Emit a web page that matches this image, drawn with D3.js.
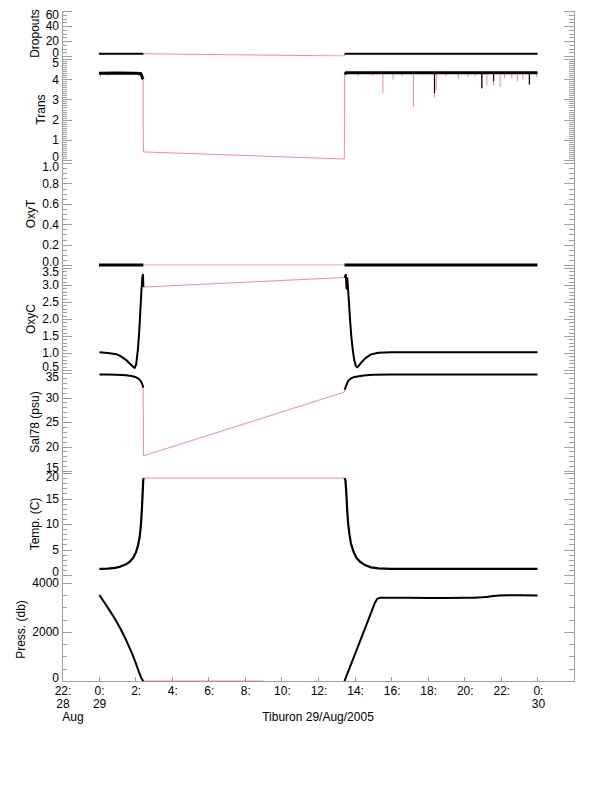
<!DOCTYPE html>
<html><head><meta charset="utf-8">
<script src="https://cdn.jsdelivr.net/npm/d3@7"></script>
<style>
body{margin:0;background:#fff}
svg{display:block}
text{font-family:"Liberation Sans",Arial,Helvetica,sans-serif;font-size:12px;fill:#000}
</style>
</head><body><svg id="c" width="612" height="785"></svg>
<script>
// ---------- DATA (time in hours from 29 Aug 2005 00:00) ----------
const timeDomain = [-2, 26];
const timeTicks = [-2, 0, 2, 4, 6, 8, 10, 12, 14, 16, 18, 20, 22, 24];
const dayLabels = {"-2": "28", "0": "29", "24": "30"};
const monthLabel = "Aug";
const xTitle = "Tiburon 29/Aug/2005";

const panelTitles = ["Dropouts", "Trans", "OxyT", "OxyC", "Sal78 (psu)", "Temp. (C)", "Press. (db)"];
const panelDomains = [[0, 60], [0, 5], [0, 1], [0.5, 3.5], [15, 35], [0, 20], [0, 4200]];
const panelMajor = [20, 1, 0.2, 0.5, 5, 5, 2000];
const panelMinor = [5, 0.1, 0.05, 0.1, 1, 1, 500];
const panelDecimals = [0, 0, 1, 1, 0, 0, 0];

// Dropouts
const dropA = [[0.02, 3], [1.2, 3], [2.45, 3]];
const dropGap = [[13.44, 0]];
const dropB = [[13.46, 3], [18, 3], [24, 3]];
// Transmissometer
const transA = [[0.02, 4.3], [1.0, 4.31], [2.0, 4.3], [2.3, 4.28], [2.36, 4.18], [2.4, 4.06], [2.44, 4.0]];
const transGap = [[2.45, 0.4], [13.44, 0.05]];
const transB = [[13.46, 4.25], [13.55, 4.32], [18, 4.32], [24, 4.32]];
const transSpikes = [[0.1, 4.12], [0.5, 4.15], [2.2, 4.15], [14.2, 4.15], [15.0, 4.18], [15.55, 3.33],
  [16.1, 4.0], [16.6, 4.15], [17.22, 2.64], [17.8, 4.2], [18.37, 3.1], [18.46, 3.47], [19.0, 4.15],
  [19.67, 4.0], [20.2, 4.1], [20.6, 4.15], [20.96, 3.55], [21.23, 3.7], [21.6, 3.7], [21.96, 3.63],
  [22.2, 4.05], [22.6, 4.05], [22.9, 3.9], [23.2, 4.0], [23.56, 3.7], [23.97, 4.1]];
const transDarkSpikes = [[18.37, 3.3], [20.96, 3.55], [23.56, 3.75], [21.6, 3.9]];
// Oxygen temperature
const oxyTA = [[0.02, 0], [2.45, 0]];
const oxyTGap = [];
const oxyTB = [[13.45, 0], [24, 0]];
// Oxygen concentration
const oxyCA = [[0.05, 1.02], [0.5, 1.0], [1.0, 0.96], [1.2, 0.91], [1.5, 0.8], [1.7, 0.69], [1.9, 0.59],
  [1.98, 0.56], [2.06, 0.68], [2.15, 1.1], [2.22, 1.6], [2.28, 2.2], [2.34, 2.8], [2.4, 3.25], [2.43, 3.3], [2.45, 2.94]];
const oxyCGap = [];
const oxyCB = [[13.45, 3.22], [13.52, 3.3], [13.56, 2.9], [13.6, 3.2], [13.68, 2.6], [13.75, 2.0], [13.82, 1.5],
  [13.9, 1.1], [13.98, 0.8], [14.06, 0.63], [14.14, 0.58], [14.22, 0.62], [14.4, 0.74], [14.6, 0.85],
  [14.9, 0.96], [15.3, 1.01], [16, 1.02], [24, 1.02]];
// Salinity
const salA = [[0.05, 34.7], [0.5, 34.7], [1.0, 34.65], [1.5, 34.55], [1.8, 34.4], [2.0, 34.2], [2.2, 33.8],
  [2.3, 33.4], [2.38, 32.8], [2.42, 32.4], [2.44, 32.0]];
const salGap = [[2.46, 18.1], [13.44, 31.1]];
const salB = [[13.46, 31.6], [13.55, 32.5], [13.65, 33.4], [13.8, 33.9], [14.0, 34.2], [14.5, 34.5],
  [15, 34.65], [16, 34.7], [24, 34.7]];
// Temperature
const tempA = [[0.05, 1.2], [0.5, 1.25], [0.9, 1.4], [1.2, 1.65], [1.5, 2.1], [1.7, 2.6], [1.9, 3.4], [2.05, 4.5],
  [2.15, 5.7], [2.25, 7.5], [2.32, 10], [2.37, 13], [2.41, 16], [2.44, 18.5], [2.46, 19.0]];
const tempGap = [];
const tempB = [[13.45, 19.0], [13.5, 18.6], [13.55, 16], [13.6, 12.5], [13.65, 10], [13.72, 8], [13.8, 6.2],
  [13.95, 4.5], [14.1, 3.4], [14.3, 2.6], [14.6, 1.9], [14.9, 1.5], [15.3, 1.3], [16, 1.2], [24, 1.2]];
// Pressure
const pressA = [[0.05, 3500], [0.3, 3220], [0.6, 2880], [0.9, 2530], [1.2, 2130], [1.5, 1680], [1.8, 1180],
  [2.0, 800], [2.2, 380], [2.35, 100], [2.45, 0]];
const pressGap = [[9.0, 0], [9.05, -60], [13.4, -60]];
const pressB = [[13.45, 0], [13.7, 480], [14.0, 1050], [14.3, 1630], [14.6, 2200], [14.9, 2780], [15.1, 3170],
  [15.25, 3360], [15.4, 3395], [16, 3390], [17, 3390], [18, 3385], [19, 3385], [20, 3390], [20.5, 3395],
  [21, 3420], [21.3, 3440], [21.6, 3470], [21.9, 3490], [22.5, 3495], [23, 3495], [24, 3490]];

const seriesA = [dropA, transA, oxyTA, oxyCA, salA, tempA, pressA];
const seriesGap = [dropGap, transGap, oxyTGap, oxyCGap, salGap, tempGap, pressGap];
const seriesB = [dropB, transB, oxyTB, oxyCB, salB, tempB, pressB];

// ---------- LAYOUT ----------
const xL = 62, xR = 574;
const panelTops = [11, 59, 163, 268, 373, 473, 578];
const panelBottoms = [56, 160, 265, 370, 471, 575, 681];
const lineW = [1.8, 3, 3, 2, 2, 2.2, 2];
const axisColor = "#a0a0a0";
const redColor = "#ff3535";

const svg = d3.select("#c");
const x = d3.scaleLinear().domain(timeDomain).range([xL, xR]);
const defs = svg.append("defs");

// frame lines
const fr = svg.append("g").attr("stroke", axisColor).attr("stroke-width", 1).attr("shape-rendering", "crispEdges");
fr.append("line").attr("x1", xL + 0.5).attr("x2", xL + 0.5).attr("y1", panelTops[0]).attr("y2", 682);
fr.append("line").attr("x1", xR + 0.5).attr("x2", xR + 0.5).attr("y1", panelTops[0]).attr("y2", 682);
fr.append("line").attr("x1", xL).attr("x2", xR + 1).attr("y1", 681.5).attr("y2", 681.5);
timeTicks.forEach(t => {
  const xx = Math.round(x(t)) + 0.5;
  fr.append("line").attr("x1", xx).attr("x2", xx).attr("y1", 681).attr("y2", 677);
});

panelTitles.forEach((title, i) => {
  const top = panelTops[i], bottom = panelBottoms[i];
  const dom = panelDomains[i];
  const y = d3.scaleLinear().domain(dom).range([bottom, top]);
  const g = svg.append("g");
  const eps = 1e-9;
  const majors = d3.range(dom[0], dom[1] + eps, panelMajor[i]);
  const minors = d3.range(dom[0], dom[1] + eps, panelMinor[i]);

  // ticks
  const tk = g.append("g").attr("stroke", axisColor).attr("stroke-width", 1).attr("shape-rendering", "crispEdges");
  minors.forEach(v => {
    const yy = Math.round(y(v)) + 0.5;
    tk.append("line").attr("x1", xL).attr("x2", xL + 5).attr("y1", yy).attr("y2", yy);
    tk.append("line").attr("x1", xR).attr("x2", xR - 5).attr("y1", yy).attr("y2", yy);
  });
  majors.forEach(v => {
    const yy = Math.round(y(v)) + 0.5;
    tk.append("line").attr("x1", xL).attr("x2", xL + 10).attr("y1", yy).attr("y2", yy);
    tk.append("line").attr("x1", xR).attr("x2", xR - 10).attr("y1", yy).attr("y2", yy);
  });
  // tick labels
  let maxW = 0;
  majors.forEach(v => {
    let yy = y(v);
    yy = Math.max(yy, top + 4);
    yy = Math.min(yy, bottom - 3.5);
    const t = g.append("text").attr("x", xL - 3).attr("y", yy).attr("dy", "0.36em")
      .attr("text-anchor", "end").text(d3.format("." + panelDecimals[i] + "f")(v));
    maxW = Math.max(maxW, t.node().getComputedTextLength());
  });
  // title
  const tx = xL - 3 - maxW - 7;
  g.append("text").attr("transform", `translate(${tx},${(top + bottom) / 2}) rotate(-90)`)
    .attr("text-anchor", "middle").text(title);

  // clip for connecting line
  defs.append("clipPath").attr("id", "clip" + i).append("rect")
    .attr("x", xL).attr("y", top - 3).attr("width", xR - xL).attr("height", bottom - top + 3.5);

  const line = d3.line().x(d => x(d[0])).y(d => y(d[1]));
  const all = seriesA[i].concat(seriesGap[i], seriesB[i]);
  g.append("path").attr("d", line(all)).attr("fill", "none").attr("stroke", redColor)
    .attr("stroke-width", 0.9).attr("opacity", 0.65).attr("clip-path", `url(#clip${i})`);

  if (i === 1) {
    g.selectAll(".sp").data(transSpikes).join("line")
      .attr("x1", d => x(d[0])).attr("x2", d => x(d[0]))
      .attr("y1", y(4.3)).attr("y2", d => y(d[1]))
      .attr("stroke", redColor).attr("stroke-width", 1).attr("opacity", 0.6);
  }
  [seriesA[i], seriesB[i]].forEach(seg => {
    g.append("path").attr("d", line(seg)).attr("fill", "none").attr("stroke", "#000")
      .attr("stroke-width", lineW[i]).attr("stroke-linejoin", "round");
  });
  if (i === 1) {
    g.selectAll(".dsp").data(transDarkSpikes).join("line")
      .attr("x1", d => x(d[0])).attr("x2", d => x(d[0]))
      .attr("y1", y(4.3)).attr("y2", d => y(d[1]))
      .attr("stroke", "#000").attr("stroke-width", 1.2);
  }
});

// x tick labels
const xl = svg.append("g");
timeTicks.forEach(t => {
  const h = ((t % 24) + 24) % 24;
  xl.append("text").attr("x", x(t) + 1).attr("y", 695).attr("text-anchor", "middle").text(h + ":");
  if (dayLabels[String(t)]) {
    xl.append("text").attr("x", x(t) + 1).attr("y", 708).attr("text-anchor", "middle").text(dayLabels[String(t)]);
  }
});
xl.append("text").attr("x", x(-2) + 11).attr("y", 721).attr("text-anchor", "middle").text(monthLabel);
svg.append("text").attr("x", (xL + xR) / 2).attr("y", 721).attr("text-anchor", "middle").text(xTitle);
</script>
</body></html>
